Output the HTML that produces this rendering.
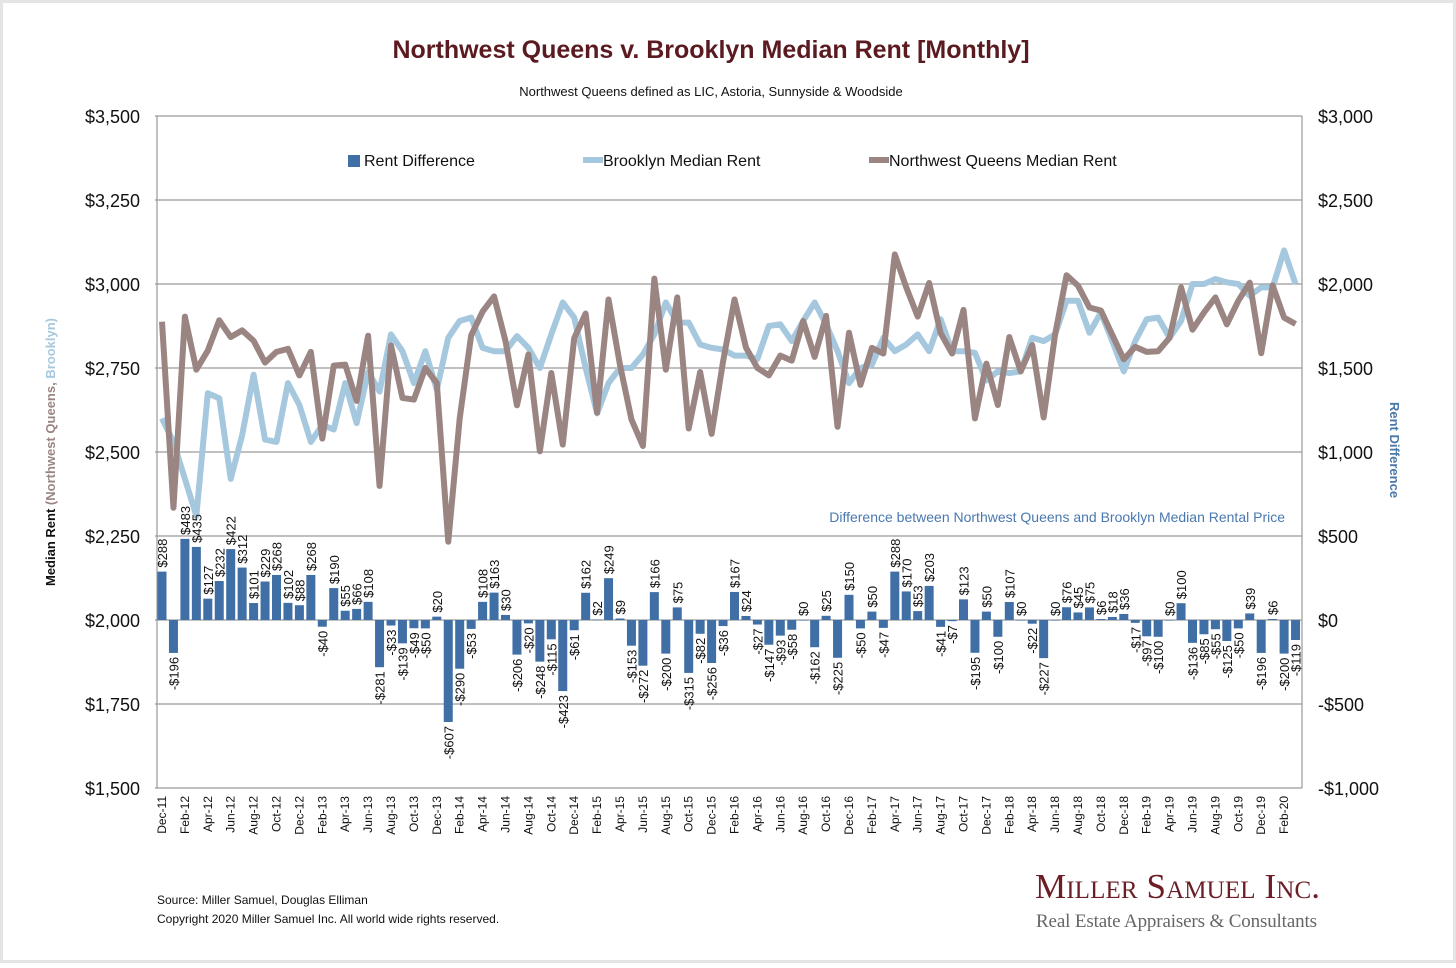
<!DOCTYPE html>
<html><head><meta charset="utf-8"><style>
body{margin:0;background:#fff;}
svg text{font-family:"Liberation Sans",Arial,sans-serif;}
</style></head><body>
<svg id="chart" width="1456" height="963" viewBox="0 0 1456 963" xmlns="http://www.w3.org/2000/svg">
<rect x="0" y="0" width="1456" height="963" fill="#fff" stroke="#e4e4e4" stroke-width="6"/>
<text x="711" y="58" text-anchor="middle" font-size="25" font-weight="bold" fill="#5a1a20">Northwest Queens v. Brooklyn Median Rent [Monthly]</text>
<text x="711" y="96" text-anchor="middle" font-size="13" fill="#111">Northwest Queens defined as LIC, Astoria, Sunnyside &amp; Woodside</text>
<g id="grid"></g>
<g id="bars"></g>
<g id="lines"></g>
<g id="labels"></g>
<g>
<rect x="348" y="155" width="12" height="12" fill="#3f6fa5"/>
<text x="364" y="166" font-size="16" fill="#111">Rent Difference</text>
<line x1="583" y1="160" x2="603" y2="160" stroke="#a6c8de" stroke-width="6"/>
<text x="603" y="166" font-size="16" fill="#111">Brooklyn Median Rent</text>
<line x1="869" y1="160" x2="889" y2="160" stroke="#9a8583" stroke-width="6"/>
<text x="889" y="166" font-size="16" fill="#111">Northwest Queens Median Rent</text>
</g>
<text transform="translate(55,452) rotate(-90)" text-anchor="middle" font-size="13" font-weight="bold"><tspan fill="#111">Median Rent </tspan><tspan fill="#9a8583">(Northwest Queens, </tspan><tspan fill="#a6c8de">Brooklyn)</tspan></text>
<text transform="translate(1390,450) rotate(90)" text-anchor="middle" font-size="13" font-weight="bold" fill="#4a78a8">Rent Difference</text>
<text x="1285" y="522" text-anchor="end" font-size="14" fill="#4a78b0">Difference between Northwest Queens and Brooklyn Median Rental Price</text>
<text x="157" y="904" font-size="12" fill="#111">Source: Miller Samuel, Douglas Elliman</text>
<text x="157" y="923" font-size="12" fill="#111">Copyright 2020 Miller Samuel Inc.  All world wide rights reserved.</text>
<text x="1035" y="898" font-size="35" fill="#6b1e26" style="font-family:'Liberation Serif',serif;font-variant:small-caps" textLength="285">Miller Samuel Inc.</text>
<text x="1036" y="927" font-size="19" fill="#666" style="font-family:'Liberation Serif',serif" textLength="281">Real Estate Appraisers &amp; Consultants</text>
</svg>
<script>
const months = [];
const monNames = ["Jan","Feb","Mar","Apr","May","Jun","Jul","Aug","Sep","Oct","Nov","Dec"];
for (let k = 0; k < 100; k++) { const m = (11 + k) % 12; const y = 11 + Math.floor((11 + k) / 12); months.push(monNames[m] + "-" + String(y).padStart(2, "0")); }
const diffValues = [288,-196,483,435,127,232,422,312,101,229,268,102,88,268,-40,190,55,66,108,-281,-33,-139,-49,-50,20,-607,-290,-53,108,163,30,-206,-20,-248,-115,-423,-61,162,2,249,9,-153,-272,166,-200,75,-315,-82,-256,-36,167,24,-27,-147,-93,-58,0,-162,25,-225,150,-50,50,-47,288,170,53,203,-41,-7,123,-195,50,-100,107,0,-22,-227,0,76,45,75,6,18,36,-17,-97,-100,0,100,-136,-85,-55,-125,-50,39,-196,6,-200,-119];
const brooklynValues = [2600,2530,2420,2310,2675,2660,2420,2550,2730,2537,2530,2705,2640,2530,2580,2567,2705,2586,2738,2680,2850,2800,2705,2800,2685,2840,2890,2900,2810,2800,2800,2845,2810,2750,2850,2945,2900,2750,2615,2705,2750,2750,2790,2850,2945,2885,2885,2820,2810,2805,2787,2787,2777,2875,2880,2830,2890,2945,2880,2800,2705,2750,2760,2840,2800,2820,2850,2800,2895,2800,2800,2795,2713,2740,2735,2740,2840,2830,2850,2950,2950,2855,2915,2830,2740,2830,2895,2900,2840,2890,3000,3000,3015,3005,3000,2965,2990,2990,3100,3000];
const queensValues = [2888,2334,2903,2745,2802,2892,2842,2862,2831,2766,2798,2807,2728,2798,2540,2757,2760,2652,2846,2399,2817,2661,2656,2750,2705,2233,2600,2847,2918,2963,2830,2639,2790,2502,2735,2522,2839,2912,2617,2954,2759,2597,2518,3016,2745,2960,2570,2738,2554,2769,2954,2811,2750,2728,2787,2772,2890,2783,2905,2575,2855,2700,2810,2793,3088,2990,2903,3003,2854,2793,2923,2600,2763,2640,2842,2740,2818,2603,2850,3026,2995,2930,2921,2848,2776,2813,2798,2800,2840,2990,2864,2915,2960,2880,2950,3004,2794,2996,2900,2881];
const leftTicks = [3500,3250,3000,2750,2500,2250,2000,1750,1500];
const rightTicks = ["$3,000","$2,500","$2,000","$1,500","$1,000","$500","$0","-$500","-$1,000"];

const NS = "http://www.w3.org/2000/svg";
const X0 = 162, DX = 11.45, PL = 155, PR = 1302, TOP = 116, BOT = 788;
const xPos = i => X0 + i * DX;
const yLeft = v => TOP + (3500 - v) / 2000 * (BOT - TOP);
const yRight = v => TOP + (3000 - v) / 4000 * (BOT - TOP);
function mk(tag, attrs, parent, txt) { const e = document.createElementNS(NS, tag); for (const k in attrs) e.setAttribute(k, attrs[k]); if (txt !== undefined) e.textContent = txt; parent.appendChild(e); return e; }
const fmt = v => (v < 0 ? "-$" : "$") + Math.abs(v).toLocaleString("en-US");

const grid = document.getElementById("grid");
leftTicks.forEach((t, k) => {
  const y = yLeft(t);
  const gl = mk("line", {x1: PL, x2: PR, y1: y, y2: y, stroke: "#9a9a9a", "stroke-width": 1.2}, grid);
  
  
  const lt = mk("text", {x: 140, y: y + 7, "text-anchor": "end", "font-size": 18, fill: "#111"}, grid, fmt(t));
  
  
  const rt = mk("text", {x: 1318, y: y + 7, "font-size": 18, fill: "#111"}, grid, rightTicks[k]);
  
  
});
const la = mk("line", {x1: 157, x2: 157, y1: TOP, y2: BOT, stroke: "#9a9a9a", "stroke-width": 1.2}, grid);


const ra = mk("line", {x1: PR, x2: PR, y1: TOP, y2: BOT, stroke: "#9a9a9a", "stroke-width": 1.2}, grid);



const bars = document.getElementById("bars");
const labels = document.getElementById("labels");
const y0 = yRight(0);
diffValues.forEach((v, i) => {
  const x = xPos(i), y = yRight(v);
  const b = mk("rect", {x: x - 4.5, y: Math.min(y, y0), width: 9, height: Math.max(Math.abs(y - y0), 0.5), fill: "#3f6fa5"}, bars);
  
  
  let t;
  if (v >= 0) t = mk("text", {transform: `translate(${x + 5},${y - 4}) rotate(-90)`, "font-size": 13, fill: "#111"}, labels, fmt(v));
  else t = mk("text", {transform: `translate(${x + 5},${y + 4}) rotate(-90)`, "text-anchor": "end", "font-size": 13, fill: "#111"}, labels, fmt(v));
  
  
  if (i % 2 === 0) {
    const xl = mk("text", {transform: `translate(${x + 4},${BOT + 8}) rotate(-90)`, "text-anchor": "end", "font-size": 12, fill: "#111"}, labels, months[i]);
    
    
  }
});

const lines = document.getElementById("lines");
const bPts = brooklynValues.map((v, i) => xPos(i) + "," + yLeft(v)).join(" ");
const qPts = queensValues.map((v, i) => xPos(i) + "," + yLeft(v)).join(" ");
const bl = mk("polyline", {points: bPts, fill: "none", stroke: "#a6c8de", "stroke-width": 6, "stroke-linejoin": "round"}, lines);


const ql = mk("polyline", {points: qPts, fill: "none", stroke: "#9a8583", "stroke-width": 6, "stroke-linejoin": "round"}, lines);


</script>
</body></html>
